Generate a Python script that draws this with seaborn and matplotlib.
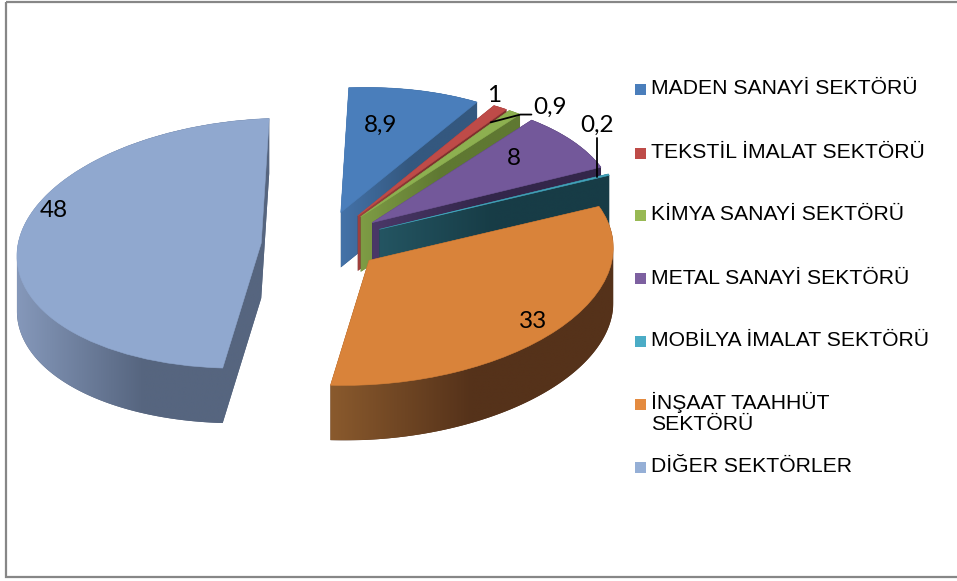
import numpy as np
import matplotlib
matplotlib.use("Agg")
import matplotlib.pyplot as plt
import seaborn as sns
from matplotlib.transforms import Affine2D
from matplotlib.patches import Rectangle, Polygon
from matplotlib.colors import LinearSegmentedColormap

# ---------------- data ----------------
sectors = ["MADEN SANAYİ SEKTÖRÜ", "TEKSTİL İMALAT SEKTÖRÜ", "KİMYA SANAYİ SEKTÖRÜ",
           "METAL SANAYİ SEKTÖRÜ", "MOBİLYA İMALAT SEKTÖRÜ", "İNŞAAT TAAHHÜT\nSEKTÖRÜ",
           "DİĞER SEKTÖRLER"]
values = [8.9, 1, 0.9, 8, 0.2, 33, 48]
value_labels = ["8,9", "1", "0,9", "8", "0,2", "33", "48"]

# ---------------- styles ----------------
top_colors = ["#4A7EBB", "#BE4B48", "#8DB050", "#73589A", "#43A4BC", "#D9833A", "#90A8CF"]
wall_light = ["#4472A8", "#A0403D", "#7E9C45", "#4A3868", "#245562", "#8A5A2D", "#8598BA"]
wall_dark = ["#34587F", "#7E302E", "#5F7832", "#33264A", "#173C46", "#55321A", "#56657F"]
legend_colors = ["#4A7EBB", "#BE4B48", "#98B954", "#7D60A0", "#4BACC6", "#E48B40", "#95AFD6"]

# label placement (polar, relative to pie centre, angle clockwise from 12 o'clock)
label_r = [0.955, 1.32, 1.364, 0.99, 1.394, 1.126, 1.159]
label_ang = [8.6, 26.3, 37.4, 46.7, 47.4, 124.1, 282.8]

sns.set_theme(style="white")
plt.rcParams["font.family"] = ["Liberation Sans", "DejaVu Sans"]

W, H = 957, 581
fig = plt.figure(figsize=(W / 100, H / 100), dpi=100)
fig.patch.set_facecolor("white")
ax = fig.add_axes([0, 0, 1, 1])

CX, CY = 322, 243          # pie centre (px)
RX, RY, SK = 243, 125, 25  # projection of the unit pie
DEPTH = 55
EXPLODE = 0.25
START = 94                 # matplotlib start angle (deg, ccw from 3 o'clock)

M = np.array([[RX, SK, CX], [0, -RY, CY], [0, 0, 1]], dtype=float)
proj = Affine2D(M)


def to_px(u, v):
    return CX + RX * u + SK * v, CY - RY * v


def hull(points):
    pts = sorted(set(map(tuple, np.round(points, 3))))
    if len(pts) < 3:
        return np.array(pts)

    def cross(o, a, b):
        return (a[0] - o[0]) * (b[1] - o[1]) - (a[1] - o[1]) * (b[0] - o[0])
    lower, upper = [], []
    for p in pts:
        while len(lower) >= 2 and cross(lower[-2], lower[-1], p) <= 0:
            lower.pop()
        lower.append(p)
    for p in reversed(pts):
        while len(upper) >= 2 and cross(upper[-2], upper[-1], p) <= 0:
            upper.pop()
        upper.append(p)
    return np.array(lower[:-1] + upper[:-1])


n = len(values)
wedges, _ = ax.pie(values, explode=[EXPLODE] * n, startangle=START,
                   counterclock=False, radius=1, colors=top_colors,
                   wedgeprops=dict(linewidth=0.4, antialiased=True))
for i, w in enumerate(wedges):
    w.set_transform(proj + ax.transData)
    w.set_edgecolor(top_colors[i])

# painter's order: slices further back (higher on screen) first
centre_y = [to_px(*w.center)[1] for w in wedges]
rank = np.argsort(np.argsort(centre_y))

for i, w in enumerate(wedges):
    t = np.deg2rad(np.linspace(w.theta1, w.theta2, 400))
    cx, cy = w.center
    outline = np.column_stack([cx + w.r * np.cos(t), cy + w.r * np.sin(t)])
    outline = np.vstack([[cx, cy], outline])
    pts = proj.transform(outline)
    sweep = np.vstack([pts, pts + np.array([0, DEPTH])])
    hp = hull(sweep)
    z = 10 + rank[i] * 100
    poly = Polygon(hp, closed=True, facecolor=wall_dark[i], edgecolor="none", zorder=z)
    ax.add_patch(poly)
    x0, x1 = hp[:, 0].min(), hp[:, 0].max()
    y0, y1 = hp[:, 1].min(), hp[:, 1].max()
    cmap = LinearSegmentedColormap.from_list(f"g{i}", [wall_light[i], wall_dark[i], wall_dark[i]])
    grad = np.linspace(0, 1, 256)[None, :]
    im = ax.imshow(grad, cmap=cmap, extent=(x0, x1, y1, y0), aspect="auto",
                   interpolation="bilinear", zorder=z + 1)
    im.set_clip_path(poly)
    w.set_zorder(z + 50)

ax.set_aspect("auto")
ax.set_xlim(0, W)
ax.set_ylim(H, 0)
ax.axis("off")

# ---------------- data labels ----------------
lab_font = dict(family=["Lato", "DejaVu Sans"], fontsize=17.5, color="black", zorder=2000)
label_pos = []
for i, txt in enumerate(value_labels):
    a = np.deg2rad(label_ang[i])
    label_pos.append(to_px(label_r[i] * np.sin(a), label_r[i] * np.cos(a)))


def outer_point(i):
    w = wedges[i]
    mid = np.deg2rad((w.theta1 + w.theta2) / 2)
    cx, cy = w.center
    return to_px(cx + np.cos(mid), cy + np.sin(mid))


# leader for 0,9
sx, sy = outer_point(2)
lx, ly = label_pos[2]
ax.plot([sx - 24, lx - 30, lx - 19], [sy + 10, ly + 7, ly + 7], color="black", lw=1.3, zorder=1500)
# leader for 0,2
sx, sy = outer_point(4)
label_pos[4] = (sx - 12, label_pos[4][1])
ax.plot([sx - 12, sx - 12], [sy + 2, label_pos[4][1] + 13], color="black", lw=1.3, zorder=1500)

for i, txt in enumerate(value_labels):
    x, y = label_pos[i]
    ax.text(x, y, txt, ha="center", va="center", **lab_font)

# ---------------- legend ----------------
leg_y = [89, 153, 215, 278, 341, 404, 467]
for i, name in enumerate(sectors):
    y = leg_y[i]
    ax.add_patch(Rectangle((635, y - 5.5), 11, 11, facecolor=legend_colors[i],
                           edgecolor="none", zorder=2000))
    if "\n" in name:
        ax.text(651, y - 12, name, ha="left", va="top", fontsize=15.2,
                color="black", linespacing=1.1, zorder=2000)
    else:
        ax.text(651, y, name, ha="left", va="center", fontsize=15.2,
                color="black", zorder=2000)

# chart border
ax.add_patch(Rectangle((6, 2), 960, 575, facecolor="none", edgecolor="#878787",
                       lw=1.6, zorder=3000, clip_on=False))

fig.savefig("out.png", dpi=100, facecolor="white")
